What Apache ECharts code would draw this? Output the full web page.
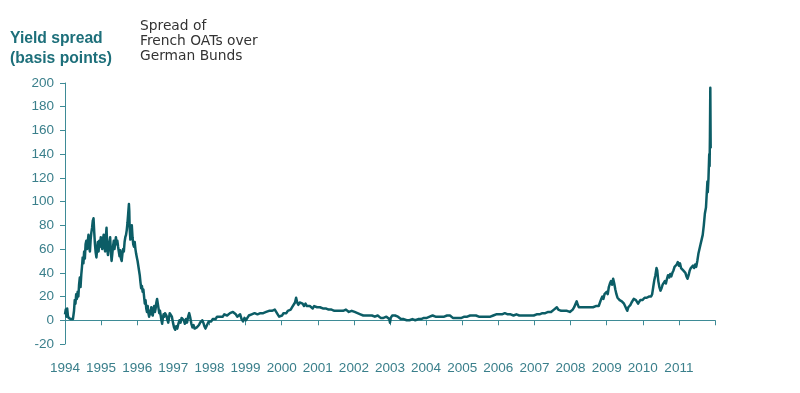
<!DOCTYPE html>
<html>
<head>
<meta charset="utf-8">
<script src="https://cdn.jsdelivr.net/npm/echarts@6/dist/echarts.min.js"></script>
<style>
html,body{margin:0;padding:0;background:#fff;}
#chart{width:800px;height:393px;}
</style>
</head>
<body>
<div id="chart"></div>
<script>
// Tick labels
var yearLabels = [1994,1995,1996,1997,1998,1999,2000,2001,2002,2003,2004,2005,2006,2007,2008,2009,2010,2011];
var yTicks = [-20,0,20,40,60,80,100,120,140,160,180,200];

// Dates (decimal years) and spread values (basis points)
var dates = [
1994.00,1994.02,1994.04,1994.06,1994.08,1994.10,1994.13,1994.16,1994.19,1994.22,1994.25,1994.27,1994.29,1994.31,1994.33,1994.35,1994.37,1994.39,1994.41,1994.43,
1994.45,1994.47,1994.49,1994.51,1994.53,1994.55,1994.57,1994.59,1994.61,1994.63,1994.65,1994.67,1994.69,1994.71,1994.73,1994.75,1994.77,1994.79,1994.81,1994.83,
1994.85,1994.87,1994.89,1994.91,1994.93,1994.95,1994.97,1994.99,1995.01,1995.03,1995.05,1995.07,1995.09,1995.11,1995.13,1995.15,1995.17,1995.19,1995.21,1995.23,
1995.25,1995.27,1995.29,1995.31,1995.33,1995.35,1995.37,1995.39,1995.41,1995.43,1995.45,1995.47,1995.49,1995.51,1995.53,1995.55,1995.57,1995.59,1995.61,1995.63,
1995.65,1995.67,1995.69,1995.71,1995.73,1995.75,1995.77,1995.78,1995.79,1995.81,1995.83,1995.85,1995.87,1995.89,1995.91,1995.93,1995.95,1995.97,1995.99,1996.01,
1996.03,1996.05,1996.07,1996.09,1996.11,1996.13,1996.15,1996.17,1996.19,1996.21,1996.23,1996.25,1996.27,1996.29,1996.31,1996.33,1996.35,1996.37,1996.39,1996.41,
1996.43,1996.45,1996.47,1996.49,1996.51,1996.53,1996.55,1996.57,1996.59,1996.61,1996.63,1996.65,1996.67,1996.69,1996.71,1996.73,1996.75,1996.77,1996.79,1996.81,
1996.83,1996.86,1996.90,1996.93,1996.96,1996.99,1997.02,1997.05,1997.08,1997.11,1997.14,1997.17,1997.20,1997.23,1997.26,1997.29,1997.32,1997.35,1997.38,1997.41,
1997.44,1997.47,1997.50,1997.53,1997.56,1997.59,1997.62,1997.65,1997.68,1997.71,1997.74,1997.77,1997.80,1997.83,1997.86,1997.89,1997.92,1997.95,1997.98,1998.01,
1998.05,1998.09,1998.13,1998.17,1998.21,1998.25,1998.29,1998.33,1998.37,1998.41,1998.45,1998.49,1998.53,1998.57,1998.61,1998.65,1998.69,1998.73,1998.77,1998.81,
1998.85,1998.89,1998.93,1998.97,1999.01,1999.05,1999.09,1999.13,1999.17,1999.21,1999.25,1999.29,1999.33,1999.37,1999.41,1999.45,1999.49,1999.53,1999.57,1999.61,
1999.65,1999.69,1999.73,1999.77,1999.81,1999.85,1999.89,1999.93,1999.97,2000.01,2000.05,2000.09,2000.13,2000.17,2000.21,2000.25,2000.29,2000.33,2000.37,2000.40,
2000.43,2000.46,2000.50,2000.54,2000.58,2000.62,2000.66,2000.70,2000.74,2000.78,2000.82,2000.86,2000.90,2000.94,2000.98,2001.02,2001.06,2001.10,2001.14,2001.18,
2001.22,2001.26,2001.30,2001.34,2001.38,2001.42,2001.46,2001.50,2001.54,2001.58,2001.62,2001.66,2001.70,2001.74,2001.78,2001.82,2001.86,2001.90,2001.94,2001.98,
2002.02,2002.06,2002.10,2002.14,2002.18,2002.22,2002.26,2002.30,2002.34,2002.38,2002.42,2002.46,2002.50,2002.54,2002.58,2002.62,2002.66,2002.70,2002.74,2002.78,
2002.82,2002.86,2002.90,2002.94,2002.98,2003.00,2003.02,2003.06,2003.10,2003.14,2003.18,2003.22,2003.26,2003.30,2003.34,2003.38,2003.42,2003.46,2003.50,2003.54,
2003.58,2003.62,2003.66,2003.70,2003.74,2003.78,2003.82,2003.86,2003.90,2003.94,2003.98,2004.02,2004.06,2004.10,2004.14,2004.18,2004.22,2004.26,2004.30,2004.34,
2004.38,2004.42,2004.46,2004.50,2004.54,2004.58,2004.62,2004.66,2004.70,2004.74,2004.78,2004.82,2004.86,2004.90,2004.94,2004.98,2005.02,2005.06,2005.10,2005.14,
2005.18,2005.22,2005.26,2005.30,2005.34,2005.38,2005.42,2005.46,2005.50,2005.54,2005.58,2005.62,2005.66,2005.70,2005.74,2005.78,2005.82,2005.86,2005.90,2005.94,
2005.98,2006.02,2006.06,2006.10,2006.14,2006.18,2006.22,2006.26,2006.30,2006.34,2006.38,2006.42,2006.46,2006.50,2006.54,2006.58,2006.62,2006.66,2006.70,2006.74,
2006.78,2006.82,2006.86,2006.90,2006.94,2006.98,2007.02,2007.06,2007.10,2007.14,2007.18,2007.22,2007.26,2007.30,2007.34,2007.38,2007.42,2007.46,2007.50,2007.54,
2007.58,2007.62,2007.66,2007.70,2007.74,2007.78,2007.82,2007.86,2007.90,2007.94,2007.98,2008.02,2008.06,2008.10,2008.14,2008.17,2008.20,2008.23,2008.26,2008.30,
2008.34,2008.38,2008.42,2008.46,2008.50,2008.54,2008.58,2008.62,2008.66,2008.70,2008.74,2008.78,2008.82,2008.85,2008.88,2008.91,2008.94,2008.97,2009.00,2009.03,
2009.06,2009.09,2009.12,2009.15,2009.18,2009.21,2009.24,2009.27,2009.30,2009.33,2009.36,2009.39,2009.42,2009.45,2009.48,2009.51,2009.54,2009.57,2009.60,2009.63,
2009.66,2009.69,2009.72,2009.75,2009.78,2009.81,2009.84,2009.87,2009.90,2009.93,2009.96,2009.99,2010.02,2010.05,2010.08,2010.11,2010.14,2010.17,2010.20,2010.23,
2010.26,2010.29,2010.32,2010.35,2010.38,2010.40,2010.43,2010.46,2010.49,2010.52,2010.55,2010.58,2010.61,2010.64,2010.67,2010.70,2010.73,2010.76,2010.79,2010.82,
2010.85,2010.88,2010.91,2010.94,2010.97,2011.00,2011.03,2011.06,2011.09,2011.12,2011.15,2011.18,2011.21,2011.24,2011.27,2011.30,2011.33,2011.36,2011.39,2011.42,
2011.45,2011.48,2011.51,2011.54,2011.57,2011.60,2011.63,2011.66,2011.69,2011.72,2011.75,2011.77,2011.79,2011.80,2011.82,2011.84,2011.85,2011.86,2011.87,2011.88
];
var spread = [
5,9,3,10,4,2,3,1,0,1,8,17,14,22,18,24,20,30,36,28,
38,45,53,48,58,52,64,67,60,66,72,62,58,68,74,78,84,86,74,64,
57,53,60,66,58,67,62,70,64,60,68,72,63,58,70,78,60,55,62,66,
70,58,50,56,62,67,60,65,70,64,67,62,58,54,59,52,50,56,60,58,
66,70,72,76,82,90,98,92,78,68,72,80,70,64,62,66,60,56,53,50,
46,42,38,32,27,29,24,26,20,14,17,10,7,12,6,3,8,5,11,6,
4,9,12,7,10,15,18,14,10,6,8,4,0,-3,2,5,3,6,7,4,
1,-2,6,7,3,-2,-6,-8,-5,-7,-3,0,-2,2,3,0,-3,1,-2,3,
6,2,-3,-6,-4,-7,-8,-6,-7,-4,-2,-3,0,-2,-5,-7,-6,-3,-1,0,
-1,1,2,1,3,2,3,4,3,5,4,4,5,6,5,7,6,5,3,2,
5,1,-1,2,0,2,4,3,5,4,6,5,5,6,6,7,6,7,7,8,
8,9,8,7,9,8,5,3,2,4,6,7,6,8,8,9,11,12,15,19,
15,13,15,14,14,12,14,12,13,12,11,10,12,11,11,12,11,11,10,11,
10,10,9,10,9,9,8,9,8,7,8,9,8,8,9,8,7,7,8,7,
7,6,6,5,5,4,4,5,4,4,4,3,4,4,3,3,4,3,2,3,
2,2,3,2,1,-2,2,4,5,4,3,3,2,1,0,1,0,0,1,0,
0,1,0,0,1,1,2,1,2,2,1,2,3,3,3,4,3,3,4,3,
3,3,3,3,3,4,3,4,3,2,2,2,1,2,2,2,3,3,3,3,
3,4,3,4,3,4,3,3,3,3,2,3,3,3,4,3,4,4,5,5,
5,5,6,5,6,6,5,5,5,5,5,4,5,5,4,4,4,4,4,4,
4,4,4,4,4,4,5,5,5,5,6,6,6,6,6,7,7,7,8,9,
10,11,9,10,8,9,8,9,8,8,7,8,9,11,14,16,13,11,10,11,
10,11,10,11,12,11,12,11,12,12,13,12,13,18,20,18,22,21,24,22,
28,31,33,30,35,31,26,22,19,20,17,18,16,17,14,12,10,8,11,10,
13,15,14,18,19,17,16,14,15,17,18,17,18,19,18,19,18,20,19,20,
22,28,34,38,44,42,33,28,25,27,30,29,33,31,35,38,36,39,37,40,
42,45,44,47,49,46,48,44,43,42,41,40,37,35,38,42,44,43,46,44,
47,45,50,56,60,64,68,72,80,90,95,106,117,108,120,140,130,155,196,145
];

var seriesData = dates.map(function (d, i) { return [d, spread[i]]; });

var teal = '#1d6f7a';
var axisTeal = '#3e8b96';
var labelTeal = '#3a7f8b';

var chart = echarts.init(document.getElementById('chart'), null, {renderer: 'canvas'});
chart.setOption({
  backgroundColor: '#ffffff',
  animation: false,
  title: [
    {
      text: 'Yield spread\n(basis points)',
      left: 10, top: 29, padding: 0,
      textStyle: {fontFamily: 'Liberation Sans, Arial, sans-serif', fontSize: 15.7, fontWeight: 'bold', color: teal, lineHeight: 20}
    },
    {
      text: 'Spread of\nFrench OATs over\nGerman Bunds',
      left: 140, top: 19, padding: 0,
      textStyle: {fontFamily: 'DejaVu Sans, Verdana, sans-serif', fontSize: 13.8, fontWeight: 'normal', color: '#333333', lineHeight: 15}
    }
  ],
  grid: {left: 65, right: 85, top: 83, bottom: 49, containLabel: false},
  xAxis: {
    type: 'value',
    min: 1994, max: 2012, interval: 1,
    axisLine: {show: true, lineStyle: {color: axisTeal, width: 1}},
    axisTick: {show: true, inside: false, length: 5, lineStyle: {color: axisTeal}},
    splitLine: {show: false},
    axisLabel: {
      margin: 17,
      color: labelTeal,
      fontFamily: 'Liberation Sans, Arial, sans-serif',
      fontSize: 13.5,
      formatter: function (v) { return yearLabels.indexOf(v) >= 0 ? String(v) : ''; }
    }
  },
  yAxis: {
    type: 'value',
    min: yTicks[0], max: yTicks[yTicks.length - 1], interval: 20,
    axisLine: {show: true, lineStyle: {color: axisTeal, width: 1}},
    axisTick: {show: true, inside: false, length: 5, lineStyle: {color: axisTeal}},
    splitLine: {show: false},
    axisLabel: {
      margin: 11,
      color: labelTeal,
      fontFamily: 'Liberation Sans, Arial, sans-serif',
      fontSize: 13.5
    }
  },
  series: [{
    type: 'line',
    data: seriesData,
    showSymbol: false,
    symbol: 'none',
    sampling: null,
    smooth: false,
    lineStyle: {color: '#0c5d66', width: 2.5, join: 'round'},
    z: 3
  }]
});
</script>
</body>
</html>
